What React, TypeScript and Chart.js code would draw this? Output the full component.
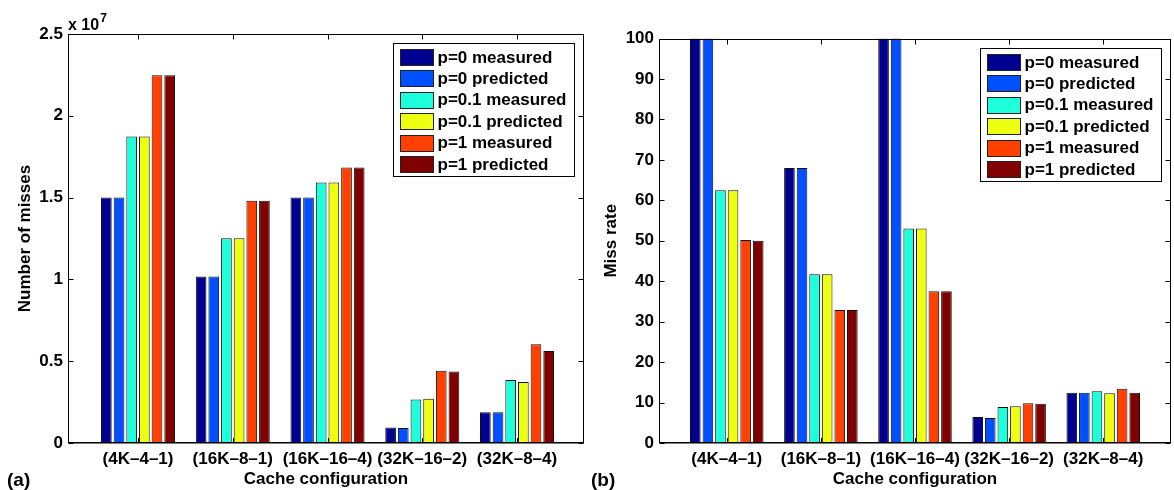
import React, { useEffect, useRef } from 'react';
import { Chart, registerables } from 'chart.js';

Chart.register(...registerables);

// ---------- data ----------
const categories = ['(4K–4–1)', '(16K–8–1)', '(16K–16–4)', '(32K–16–2)', '(32K–8–4)'];
const categoryPositions = [1, 2, 3, 4, 5];

const seriesNames = [
  'p=0 measured',
  'p=0 predicted',
  'p=0.1 measured',
  'p=0.1 predicted',
  'p=1 measured',
  'p=1 predicted',
];
const seriesColors = ['#000090', '#0050FF', '#1EFFDC', '#EEFF10', '#FF4000', '#800000'];

// panel (a): number of misses
const missesP0Measured = [1.5e7, 1.018e7, 1.5e7, 0.095e7, 0.188e7];
const missesP0Predicted = [1.5e7, 1.018e7, 1.5e7, 0.092e7, 0.188e7];
const missesP01Measured = [1.873e7, 1.251e7, 1.592e7, 0.266e7, 0.385e7];
const missesP01Predicted = [1.873e7, 1.252e7, 1.592e7, 0.27e7, 0.373e7];
const missesP1Measured = [2.248e7, 1.48e7, 1.684e7, 0.442e7, 0.603e7];
const missesP1Predicted = [2.248e7, 1.48e7, 1.684e7, 0.437e7, 0.562e7];

const missTicks = [0, 0.5e7, 1e7, 1.5e7, 2e7, 2.5e7];
const missTickLabels = ['0', '0.5', '1', '1.5', '2', '2.5'];

// panel (b): miss rate
const rateP0Measured = [100, 68, 100, 6.4, 12.4];
const rateP0Predicted = [100, 68, 100, 6.2, 12.4];
const rateP01Measured = [62.5, 41.7, 53, 8.9, 12.8];
const rateP01Predicted = [62.5, 41.7, 53, 9.1, 12.3];
const rateP1Measured = [50.2, 32.9, 37.5, 9.8, 13.4];
const rateP1Predicted = [50.0, 32.9, 37.5, 9.7, 12.4];

const rateTicks = [0, 10, 20, 30, 40, 50, 60, 70, 80, 90, 100];
const rateTickLabels = ['0', '10', '20', '30', '40', '50', '60', '70', '80', '90', '100'];

// ---------- styling ----------
const FONT = '"Liberation Sans", Arial, Helvetica, sans-serif';

type PanelSpec = {
  series: number[][];
  yMax: number;
  yTicks: number[];
  yTickLabels: string[];
  yTitle: string;
  yTitlePad: number;
  yWidth: number;
  padTop: number;
  padRight: number;
  xMin: number;
  xMax: number;
  panelLabel: string;
  panelX: number;
  exponent: boolean;
};

function makePlugin(spec: PanelSpec) {
  return {
    id: 'matlabFrame',
    beforeDatasetsDraw(chart: any) {
      const { ctx, chartArea: a, scales } = chart;
      const x = scales.x;
      ctx.save();
      ctx.strokeStyle = '#000';
      ctx.lineWidth = 1;
      x.ticks.forEach((t: any) => {
        const px = Math.round(x.getPixelForValue(t.value)) + 0.5;
        ctx.beginPath();
        ctx.moveTo(px, a.bottom);
        ctx.lineTo(px, a.bottom - 5);
        ctx.stroke();
      });
      ctx.restore();
    },
    afterDatasetsDraw(chart: any) {
      const { ctx, chartArea: a, scales } = chart;
      const x = scales.x;
      const y = scales.y;
      ctx.save();
      ctx.strokeStyle = '#000';
      ctx.lineWidth = 1;
      const L = Math.round(a.left) + 0.5;
      const R = Math.round(a.right) - 0.5;
      const T = Math.round(a.top) + 0.5;
      const B = Math.round(a.bottom) - 0.5;
      ctx.strokeRect(L, T, R - L, B - T);
      // bottom axis slightly heavier
      ctx.beginPath();
      ctx.moveTo(L, B + 0.5);
      ctx.lineTo(R, B + 0.5);
      ctx.stroke();
      // top ticks
      x.ticks.forEach((t: any) => {
        const px = Math.round(x.getPixelForValue(t.value)) + 0.5;
        ctx.beginPath();
        ctx.moveTo(px, T);
        ctx.lineTo(px, T + 5);
        ctx.stroke();
      });
      // y ticks left and right
      y.ticks.forEach((t: any) => {
        const py = Math.round(y.getPixelForValue(t.value)) + 0.5;
        ctx.beginPath();
        ctx.moveTo(L, py);
        ctx.lineTo(L + 5, py);
        ctx.moveTo(R, py);
        ctx.lineTo(R - 5, py);
        ctx.stroke();
      });

      // legend
      const w = 181;
      const h = 133;
      const bx = Math.round(a.right - 10 - w) + 0.5;
      const by = Math.round(a.top + 9) + 0.5;
      ctx.fillStyle = '#fff';
      ctx.fillRect(bx, by, w, h);
      ctx.strokeRect(bx, by, w, h);
      ctx.font = `bold 17px ${FONT}`;
      ctx.textBaseline = 'middle';
      ctx.textAlign = 'left';
      chart.data.datasets.forEach((ds: any, i: number) => {
        const cy = by + 13.5 + i * 21.4;
        ctx.fillStyle = ds.backgroundColor;
        ctx.fillRect(bx + 7, Math.round(cy - 8) + 0.5, 33, 16);
        ctx.strokeStyle = '#222';
        ctx.strokeRect(bx + 7, Math.round(cy - 8) + 0.5, 33, 16);
        ctx.fillStyle = '#000';
        ctx.fillText(ds.label, bx + 44, cy + 1);
      });
      ctx.restore();
    },
    afterDraw(chart: any) {
      const { ctx, chartArea: a } = chart;
      ctx.save();
      ctx.fillStyle = '#000';
      ctx.textAlign = 'left';
      ctx.textBaseline = 'middle';
      ctx.font = `bold 19px ${FONT}`;
      ctx.fillText(spec.panelLabel, spec.panelX, 481);
      if (spec.exponent) {
        ctx.textBaseline = 'alphabetic';
        ctx.font = `bold 16px ${FONT}`;
        const base = 'x 10';
        ctx.fillText(base, a.left, 30);
        const bw = ctx.measureText(base).width;
        ctx.font = `bold 12px ${FONT}`;
        ctx.fillText('7', a.left + bw + 1, 22);
      }
      ctx.restore();
    },
  };
}

function makeConfig(spec: PanelSpec): any {
  const tickFont = { family: FONT, size: 17, weight: 'bold' as const };
  return {
    type: 'bar',
    data: {
      datasets: spec.series.map((vals, i) => ({
        label: seriesNames[i],
        data: vals.map((v, j) => ({ x: categoryPositions[j], y: v })),
        backgroundColor: seriesColors[i],
        borderColor: '#111',
        borderWidth: 1,
      })),
    },
    options: {
      animation: false,
      responsive: false,
      devicePixelRatio: 1,
      layout: { padding: { top: spec.padTop, right: spec.padRight, left: 0, bottom: 0 } },
      datasets: { bar: { barPercentage: 0.845, categoryPercentage: 0.802 } },
      plugins: { legend: { display: false }, tooltip: { enabled: false } },
      scales: {
        x: {
          type: 'linear',
          min: spec.xMin,
          max: spec.xMax,
          offset: false,
          grid: { display: false, drawTicks: false },
          border: { display: false },
          afterBuildTicks: (s: any) => {
            s.ticks = categoryPositions.map((v) => ({ value: v }));
          },
          afterFit: (s: any) => {
            s.height = 47;
          },
          ticks: {
            autoSkip: false,
            maxRotation: 0,
            minRotation: 0,
            padding: 6,
            color: '#000',
            font: tickFont,
            callback: (v: number) => {
              const k = categoryPositions.indexOf(v);
              return k >= 0 ? categories[k] : '';
            },
          },
          title: {
            display: true,
            text: 'Cache configuration',
            color: '#000',
            font: tickFont,
            padding: { top: 0, bottom: 0 },
          },
        },
        y: {
          min: 0,
          max: spec.yMax,
          grid: { display: false, drawTicks: false },
          border: { display: false },
          afterBuildTicks: (s: any) => {
            s.ticks = spec.yTicks.map((v) => ({ value: v }));
          },
          afterFit: (s: any) => {
            s.width = spec.yWidth;
          },
          ticks: {
            padding: 5,
            color: '#000',
            font: tickFont,
            callback: (v: number) => {
              const k = spec.yTicks.indexOf(v);
              return k >= 0 ? spec.yTickLabels[k] : '';
            },
          },
          title: {
            display: true,
            text: spec.yTitle,
            color: '#000',
            font: tickFont,
            padding: { top: spec.yTitlePad, bottom: 0 },
          },
        },
      },
    },
    plugins: [makePlugin(spec)],
  };
}

const specA: PanelSpec = {
  series: [
    missesP0Measured,
    missesP0Predicted,
    missesP01Measured,
    missesP01Predicted,
    missesP1Measured,
    missesP1Predicted,
  ],
  yMax: 2.5e7,
  yTicks: missTicks,
  yTickLabels: missTickLabels,
  yTitle: 'Number of misses',
  yTitlePad: 14.8,
  yWidth: 68,
  padTop: 34,
  padRight: 4,
  xMin: 0.261,
  xMax: 5.707,
  panelLabel: '(a)',
  panelX: 7,
  exponent: true,
};

const specB: PanelSpec = {
  series: [rateP0Measured, rateP0Predicted, rateP01Measured, rateP01Predicted, rateP1Measured, rateP1Predicted],
  yMax: 100,
  yTicks: rateTicks,
  yTickLabels: rateTickLabels,
  yTitle: 'Miss rate',
  yTitlePad: 13.5,
  yWidth: 71,
  padTop: 38.5,
  padRight: 3,
  xMin: 0.28,
  xMax: 5.72,
  panelLabel: '(b)',
  panelX: 3,
  exponent: false,
};

function ChartPanel({ spec, left, width }: { spec: PanelSpec; left: number; width: number }) {
  const ref = useRef<HTMLCanvasElement>(null);
  useEffect(() => {
    const chart = new Chart(ref.current as HTMLCanvasElement, makeConfig(spec));
    return () => chart.destroy();
  }, [spec]);
  return (
    <canvas
      ref={ref}
      width={width}
      height={490}
      style={{ position: 'absolute', left, top: 0, width, height: 490 }}
    />
  );
}

export default function App() {
  return (
    <div
      style={{
        position: 'fixed',
        left: 0,
        top: 0,
        width: 1174,
        height: 490,
        background: '#fff',
        overflow: 'hidden',
      }}
    >
      <ChartPanel spec={specA} left={0} width={588} />
      <ChartPanel spec={specB} left={588} width={586} />
    </div>
  );
}
